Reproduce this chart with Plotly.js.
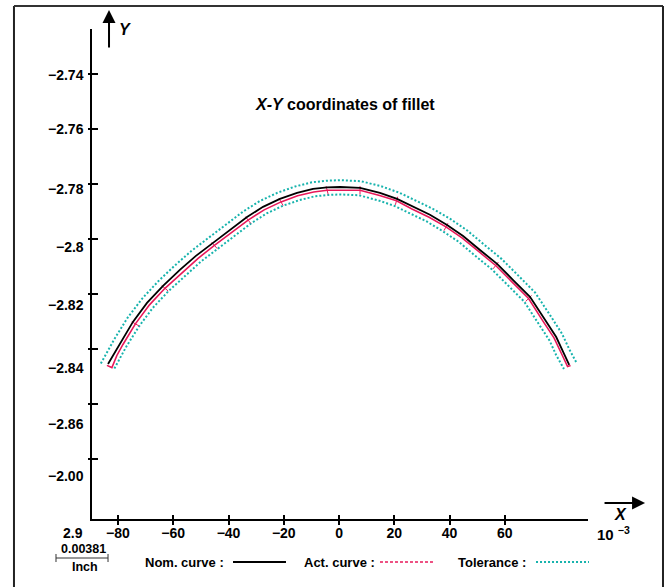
<!DOCTYPE html>
<html>
<head>
<meta charset="utf-8">
<script src="https://cdn.plot.ly/plotly-3.0.1.min.js"></script>
<style>html,body{margin:0;padding:0;background:#fff;}#chart{width:669px;height:587px;}</style>
</head>
<body>
<div id="chart"></div>
<script>
// ---- data ----
const nomX = [-83.6,-81.4,-79.3,-74.6,-69.5,-63.7,-57.6,-51.8,-45.6,-39.5,-33.3,-27.5,-21.4,-15.2,-9.4,-4.3,0.4,7.6,14.8,21.0,26.8,32.9,39.1,44.9,51.0,57.2,63.0,69.1,74.6,78.6,81.1,83.3];
const nomY = [-2.8454,-2.8417,-2.8377,-2.8301,-2.8232,-2.8170,-2.8112,-2.8061,-2.8014,-2.7967,-2.7920,-2.7883,-2.7854,-2.7832,-2.7818,-2.7812,-2.7811,-2.7814,-2.7832,-2.7854,-2.7883,-2.7912,-2.7949,-2.7989,-2.8040,-2.8090,-2.8149,-2.8210,-2.8294,-2.8356,-2.8410,-2.8457];

const actX = [-84.0,-82.2,-80.4,-78.2,-73.7,-68.6,-63.0,-56.8,-51.0,-45.1,-38.9,-32.9,-27.1,-21.0,-15.0,-9.2,-4.3,0.4,7.6,14.7,20.8,26.4,32.6,38.7,44.5,50.5,56.7,62.4,68.6,73.8,77.8,80.4,82.7,83.8];
const actY = [-2.8459,-2.8467,-2.8423,-2.8383,-2.8308,-2.8239,-2.8179,-2.8121,-2.8070,-2.8023,-2.7976,-2.7931,-2.7894,-2.7865,-2.7843,-2.7829,-2.7823,-2.7822,-2.7823,-2.7842,-2.7861,-2.7891,-2.7921,-2.7956,-2.7996,-2.8045,-2.8096,-2.8154,-2.8216,-2.8298,-2.8359,-2.8414,-2.8463,-2.8459];
// measured points on the actual curve that carry a small cross mark
const actMarkIdx = [2,4,6,9,11,13,16,18,20,23,26,28];

const tolUpX = [-86.2,-83.5,-81.4,-76.6,-71.3,-65.4,-59.2,-53.3,-47.1,-40.9,-34.7,-28.7,-22.3,-15.9,-9.8,-4.5,0.4,8.0,15.5,21.9,27.8,34.1,40.4,46.4,52.6,58.8,64.7,71.0,76.6,80.7,83.3,85.8];
const tolUpY = [-2.8452,-2.8405,-2.8365,-2.8287,-2.8217,-2.8153,-2.8094,-2.8042,-2.7995,-2.7948,-2.7900,-2.7862,-2.7832,-2.7809,-2.7794,-2.7788,-2.7786,-2.7790,-2.7809,-2.7832,-2.7861,-2.7891,-2.7928,-2.7969,-2.8021,-2.8072,-2.8131,-2.8195,-2.8280,-2.8344,-2.8400,-2.8447];

const tolLoX = [-81.3,-79.1,-77.0,-72.3,-67.4,-61.8,-55.7,-50.0,-44.0,-37.8,-31.7,-26.2,-20.3,-14.4,-8.9,-4.2,0.4,7.2,14.0,19.9,25.6,31.7,37.6,43.3,49.3,55.4,61.1,67.0,72.3,76.2,78.6,81.4];
const tolLoY = [-2.8470,-2.8431,-2.8391,-2.8316,-2.8250,-2.8190,-2.8133,-2.8082,-2.8036,-2.7989,-2.7942,-2.7907,-2.7879,-2.7859,-2.7845,-2.7840,-2.7838,-2.7841,-2.7859,-2.7879,-2.7908,-2.7936,-2.7972,-2.8010,-2.8061,-2.8111,-2.8168,-2.8227,-2.8309,-2.8369,-2.8422,-2.8472];

const xTickVals = [-80,-60,-40,-20,0,20,40,60];
const xTickText = ["−80","−60","−40","−20","0","20","40","60"];
const yTickVals = [-2.74,-2.76,-2.78,-2.80,-2.82,-2.84,-2.86,-2.88];
const yTickText = ["−2.74","−2.76","−2.78","−2.8","−2.82","−2.84","−2.86","−2.00"];
const yLabelDrop = [1,0,5,8,11,19,20,17];

const titleText = "<i>X-Y</i> coordinates of fillet";
const legendNames = ["Nom. curve :","Act. curve :","Tolerance :"];

// ---- styles ----
const FONT = "Liberation Sans, Arial, sans-serif";
const BLACK = "#000000", PINK = "#e8185a", TEAL = "#17b3ad";
const xRange = [-89.4, 90.1];
const yRange = [-2.9017, -2.7237];

const traces = [
  {x: tolUpX, y: tolUpY, mode: "lines", line: {color: TEAL, width: 2, dash: "2px,2px"}, hoverinfo: "skip"},
  {x: tolLoX, y: tolLoY, mode: "lines", line: {color: TEAL, width: 2, dash: "2px,2px"}, hoverinfo: "skip"},
  {x: actX, y: actY, mode: "lines", line: {color: PINK, width: 1.6}, hoverinfo: "skip"},
  {x: actMarkIdx.map(i => actX[i]), y: actMarkIdx.map(i => actY[i]), mode: "markers", hoverinfo: "skip",
    marker: {symbol: "line-ew", size: 6, angleref: "previous", color: PINK, line: {color: PINK, width: 1}}},
  {x: nomX, y: nomY, mode: "lines", line: {color: BLACK, width: 1.8}, hoverinfo: "skip"},
  {x: [], y: [], xaxis: "x2", yaxis: "y2", mode: "lines", hoverinfo: "skip"}
];

function label(x, y, text, size, extra) {
  return Object.assign({xref: "paper", yref: "paper", x: x, y: y, text: text, showarrow: false,
    xanchor: "center", yanchor: "middle", font: {family: FONT, size: size, color: BLACK}}, extra || {});
}

const annotations = [];
annotations.push(label(0.510, 0.845, "<b>" + titleText + "</b>", 16));
yTickVals.forEach((v, i) => {
  annotations.push({xref: "paper", yref: "y", x: 0, y: v, xshift: -6, yshift: -yLabelDrop[i], xanchor: "right", yanchor: "middle",
    text: "<b>" + yTickText[i] + "</b>", showarrow: false, font: {family: FONT, size: 14, color: BLACK}});
});
// axis arrows and names
annotations.push({xref: "paper", yref: "paper", x: 0.0343, y: 1.0388, ax: 0, ay: 39, text: "", showarrow: true,
  arrowhead: 2, arrowsize: 1.3, arrowwidth: 2, arrowcolor: BLACK});
annotations.push(label(0.0665, 1.0, "<b><i>Y</i></b>", 16));
annotations.push({xref: "paper", yref: "paper", x: 1.115, y: 0.0327, ax: -42, ay: 0, text: "", showarrow: true,
  arrowhead: 2, arrowsize: 1.3, arrowwidth: 2, arrowcolor: BLACK});
annotations.push(label(1.0665, 0.0102, "<b><i>X</i></b>", 16));
annotations.push(label(1.052, -0.0306, "<b>10 <sup>−3</sup></b>", 15));
// scale note
annotations.push(label(-0.0373, -0.0286, "<b>2.9</b>", 14));
annotations.push(label(-0.0181, -0.0612, "<b>0.00381</b>", 12.5));
annotations.push(label(-0.0141, -0.098, "<b>Inch</b>", 12.5));
// legend texts
const legCenters = [0.1865, 0.498, 0.8065];
legendNames.forEach((n, i) => {
  annotations.push(label(legCenters[i], -0.0878, "<b>" + n + "</b>", 13));
});

const shapes = [
  // outer frame
  {type: "line", xref: "paper", yref: "paper", x0: -0.1573, x1: -0.1573, y0: -0.2, y1: 1.0469, line: {color: "#222", width: 2}},
  {type: "line", xref: "paper", yref: "paper", x0: -0.1573, x1: 1.1512, y0: 1.0469, y1: 1.0469, line: {color: "#333", width: 2}},
  {type: "line", xref: "paper", yref: "paper", x0: 1.1512, x1: 1.1512, y0: -0.2, y1: 1.0469, line: {color: "#222", width: 2}},
  // scale bar
  {type: "line", xref: "paper", yref: "paper", x0: -0.0726, x1: 0.0323, y0: -0.0796, y1: -0.0796, line: {color: "#333", width: 1}},
  {type: "line", xref: "paper", yref: "paper", x0: -0.0726, x1: -0.0726, y0: -0.0714, y1: -0.0878, line: {color: "#333", width: 1}},
  {type: "line", xref: "paper", yref: "paper", x0: 0.0323, x1: 0.0323, y0: -0.0714, y1: -0.0878, line: {color: "#333", width: 1}},
  // legend samples
  {type: "line", xref: "paper", yref: "paper", x0: 0.2843, x1: 0.3911, y0: -0.0878, y1: -0.0878, line: {color: BLACK, width: 2}},
  {type: "line", xref: "paper", yref: "paper", x0: 0.5806, x1: 0.6895, y0: -0.0878, y1: -0.0878, line: {color: PINK, width: 1.5, dash: "3px,2px"}},
  {type: "line", xref: "paper", yref: "paper", x0: 0.8952, x1: 1.002, y0: -0.0878, y1: -0.0878, line: {color: TEAL, width: 2, dash: "2px,2px"}}
];

const layout = {
  width: 669, height: 587,
  margin: {l: 92, r: 81, t: 29, b: 68, pad: 0},
  paper_bgcolor: "#ffffff", plot_bgcolor: "#ffffff",
  showlegend: false,
  font: {family: FONT, color: BLACK},
  xaxis: {range: xRange, showgrid: false, zeroline: false, showline: true, linecolor: BLACK, linewidth: 2,
    tickmode: "array", tickvals: xTickVals, ticktext: xTickText.map(t => "<b>" + t + "</b>"),
    ticks: "outside", ticklen: 4, tickwidth: 2, tickcolor: BLACK, ticklabelstandoff: -4,
    tickfont: {family: FONT, size: 14, color: BLACK}, fixedrange: true},
  xaxis2: {range: xRange, overlaying: "x", anchor: "y", side: "bottom", showgrid: false, zeroline: false, showline: false,
    tickmode: "array", tickvals: xTickVals, showticklabels: false, ticks: "inside", ticklen: 4, tickwidth: 2, tickcolor: BLACK},
  yaxis: {range: yRange, showgrid: false, zeroline: false, showline: true, linecolor: BLACK, linewidth: 2,
    tickmode: "array", tickvals: yTickVals, showticklabels: false,
    ticks: "inside", ticklen: 6, tickwidth: 2, tickcolor: BLACK, fixedrange: true},
  yaxis2: {range: yRange, overlaying: "y", anchor: "x", side: "left", showgrid: false, zeroline: false, showline: false,
    tickmode: "array", tickvals: yTickVals, showticklabels: false, ticks: "outside", ticklen: 3, tickwidth: 2, tickcolor: BLACK},
  annotations: annotations,
  shapes: shapes
};

Plotly.newPlot("chart", traces, layout, {displayModeBar: false, staticPlot: true});
</script>
</body>
</html>
